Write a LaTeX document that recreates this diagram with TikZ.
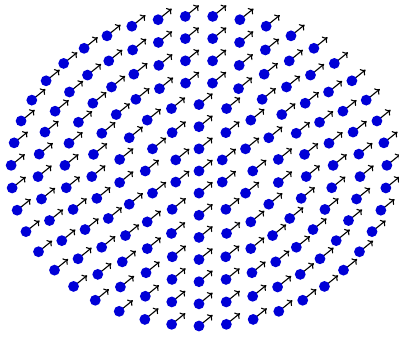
\documentclass[tikz,border=0pt]{standalone}
\usetikzlibrary{arrows.meta}
\definecolor{dotblue}{RGB}{0,0,215}
\tikzset{
  spin/.style={line width=1.1pt, -{To[length=4.5pt,width=8pt]}},
  site/.style={circle, fill=dotblue, inner sep=0pt, minimum size=10.8pt}
}
\begin{document}
\begin{tikzpicture}[x=1pt,y=1pt]
\useasboundingbox (0,0) rectangle (399,337);
\coordinate (c) at (199,166);
\draw[spin] (c) -- ++(39:17.5);
\node[site] (s0) at (c) {};
\foreach \k in {1,...,7}{
  \pgfmathtruncatemacro{\N}{floor(2*pi*\k)}
  \foreach \i in {1,...,\N}{
    \pgfmathsetmacro{\ang}{-90+360*(\i-1)/\N}
    \pgfmathsetmacro{\px}{199+188*\k/7*cos(\ang)}
    \pgfmathsetmacro{\py}{166+155*\k/7*sin(\ang)}
    \coordinate (p-\k-\i) at (\px,\py);
    \draw[spin] (p-\k-\i) -- ++(39:17.5);
    \node[site] (s-\k-\i) at (p-\k-\i) {};
  }
}
\end{tikzpicture}
\end{document}
